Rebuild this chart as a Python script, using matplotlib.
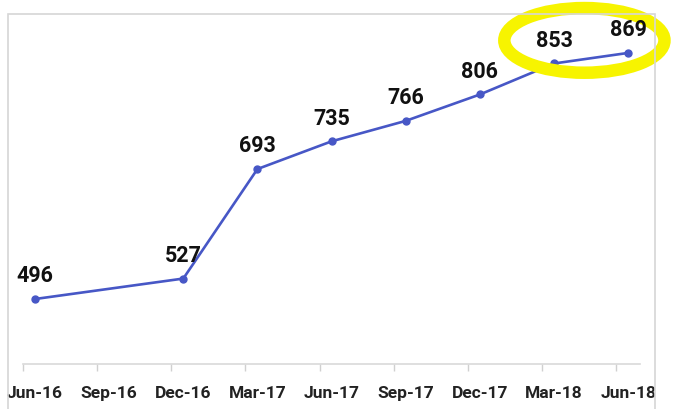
import matplotlib
matplotlib.use("Agg")
import matplotlib.pyplot as plt
import matplotlib.patches as mpatches
import numpy as np

plt.rcParams["font.family"] = ["Roboto", "DejaVu Sans"]

# data
quarters = ["Jun-16", "Sep-16", "Dec-16", "Mar-17", "Jun-17",
            "Sep-17", "Dec-17", "Mar-18", "Jun-18"]
point_quarters = ["Jun-16", "Dec-16", "Mar-17", "Jun-17",
                  "Sep-17", "Dec-17", "Mar-18", "Jun-18"]
values = [496, 527, 693, 735, 766, 806, 853, 869]

LINE_COLOR = "#4757C6"
W, H = 675, 410

fig = plt.figure(figsize=(W / 100, H / 100), dpi=100)
ax = fig.add_axes([23 / W, 45 / H, 617 / W, 350 / H])

xpos = [quarters.index(q) for q in point_quarters]
ax.plot(xpos, values, color=LINE_COLOR, linewidth=1.9, marker="o",
        markersize=5, zorder=3)

for x, v in zip(xpos, values):
    ax.annotate(f"{v}", (x, v), xytext=(0, 17), textcoords="offset points",
                ha="center", va="center", fontsize=15.5, fontweight="bold",
                color="#111111", zorder=5)

ax.set_xlim(-0.162, 8.16)
ax.set_ylim(397.5, 928)

# category labels centred on points, tick marks sit a bit to the left
ax.set_xticks(range(len(quarters)))
ax.set_xticklabels(quarters, fontsize=12.5, fontweight="bold", color="#222222")
ax.tick_params(axis="x", which="major", length=0, pad=15)
ax.set_xticks(np.arange(len(quarters)) - 0.162, minor=True)
ax.tick_params(axis="x", which="minor", length=5, color="#d0d0d0", width=1)
ax.set_yticks([])

for side in ["top", "right", "left"]:
    ax.spines[side].set_visible(False)
ax.spines["bottom"].set_color("#d9d9d9")
ax.spines["bottom"].set_linewidth(1.2)

# outer chart-area border
fig.patches.append(mpatches.Rectangle((8 / W, -0.01), 647 / W, (H - 15) / H + 0.01,
                                      transform=fig.transFigure, fill=False,
                                      edgecolor="#d6d6d6", linewidth=1.2))

# yellow highlight ring around the last two values
ax.add_patch(mpatches.Ellipse((7.41, 888), 2.16, 98, fill=False,
                              edgecolor="#F7F400", linewidth=9, clip_on=False,
                              zorder=4))

fig.savefig("out.png", dpi=100)
